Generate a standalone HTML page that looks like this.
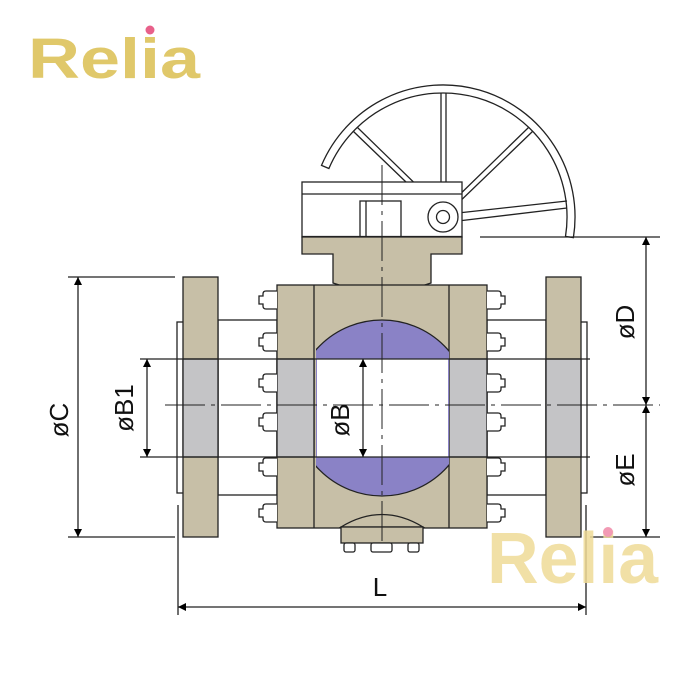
<!DOCTYPE html>
<html><head><meta charset="utf-8"><style>html,body{margin:0;padding:0;background:#fff}svg{display:block}</style></head>
<body>
<svg width="700" height="700" viewBox="0 0 700 700" xmlns="http://www.w3.org/2000/svg" font-family="Liberation Sans, sans-serif">
<defs>
<marker id="a" viewBox="0 0 10 10" refX="10" refY="5" markerWidth="8" markerHeight="16" orient="auto-start-reverse" markerUnits="userSpaceOnUse"><path d="M0,0 L10,5 L0,10 z" fill="#000"/></marker>
<clipPath id="ballclip"><rect x="316" y="300" width="133" height="220"/></clipPath>
<g id="boltL"><path d="M277,-9 H266 Q263,-9 263,-6 V-4 H259 V4 H263 V6 Q263,9 266,9 H277" fill="#fff" stroke="#222" stroke-width="1.3"/></g>
<g id="boltR"><path d="M487,-9 H498 Q501,-9 501,-6 V-4 H505 V4 H501 V6 Q501,9 498,9 H487" fill="#fff" stroke="#222" stroke-width="1.3"/></g>
</defs>
<g stroke="#222" stroke-width="1.3">
<!-- handwheel arc -->
<path d="M321.5,165.4 A132,132 0 0 1 573.4,237.6 L565.5,236.4 A124,124 0 0 0 328.9,168.5 Z" fill="#fff"/>
<line x1="441" y1="93" x2="441" y2="203"/>
<line x1="446" y1="93" x2="446" y2="203"/>
<line x1="353" y1="131" x2="433" y2="208"/><line x1="357" y1="127" x2="436" y2="204"/>
<line x1="529" y1="127" x2="450" y2="204"/><line x1="533" y1="131" x2="453" y2="208"/>
<line x1="458" y1="213" x2="567" y2="201"/><line x1="458" y1="221" x2="567" y2="208"/>
<!-- gearbox -->
<rect x="302" y="182" width="160" height="55" fill="#fff"/>
<line x1="302" y1="194" x2="462" y2="194"/>
<rect x="360" y="201" width="41" height="36" fill="#fff"/>
<line x1="366" y1="201" x2="366" y2="237"/>
<circle cx="443" cy="217" r="15" fill="#fff"/><circle cx="443" cy="217" r="6.5" fill="#fff"/>
<line x1="302" y1="237" x2="462" y2="237" stroke-width="2.2"/>
<!-- top flange & neck -->
<path d="M302,237 H462 V254 H431 V283 Q382,300 333,283 V254 H302 Z" fill="#c7bfa7"/>
<!-- pipes -->
<rect x="218" y="320" width="59" height="175" fill="#fff"/>
<rect x="487" y="320" width="59" height="175" fill="#fff"/>
<!-- flanges -->
<rect x="177" y="322" width="8" height="171" fill="#fff"/>
<rect x="579" y="322" width="8" height="171" fill="#fff"/>
<rect x="183" y="277" width="35" height="260" fill="#c7bfa7"/>
<rect x="546" y="277" width="35" height="260" fill="#c7bfa7"/>
<rect x="183" y="359" width="35" height="98" fill="#c4c4c6"/>
<rect x="546" y="359" width="35" height="98" fill="#c4c4c6"/>
<!-- body -->
<rect x="277" y="285" width="210" height="243" fill="#c7bfa7"/>
<line x1="314" y1="285" x2="314" y2="528"/><line x1="449" y1="285" x2="449" y2="528"/>
<rect x="277" y="359" width="37" height="98" fill="#c4c4c6"/>
<rect x="449" y="359" width="38" height="98" fill="#c4c4c6"/>
<g clip-path="url(#ballclip)"><circle cx="382" cy="408" r="88" fill="#8a82c6"/></g>
<rect x="317" y="359" width="131" height="98" fill="#fff" stroke="none"/>
<line x1="168" y1="359" x2="590" y2="359"/><line x1="168" y1="457" x2="590" y2="457"/>
<!-- bolts -->
<use href="#boltL" y="300"/><use href="#boltL" y="342"/><use href="#boltL" y="383"/><use href="#boltL" y="422"/><use href="#boltL" y="467"/><use href="#boltL" y="513"/>
<use href="#boltR" y="300"/><use href="#boltR" y="342"/><use href="#boltR" y="383"/><use href="#boltR" y="422"/><use href="#boltR" y="467"/><use href="#boltR" y="513"/>
<!-- bottom cap -->
<path d="M341,527 Q382,502 423,527 Z" fill="#c7bfa7"/>
<rect x="341" y="527" width="82" height="16" fill="#c7bfa7"/>
<rect x="344" y="543" width="11" height="9" rx="2" fill="#fff"/>
<rect x="371" y="543" width="21" height="9" rx="2" fill="#fff"/>
<rect x="408" y="543" width="11" height="9" rx="2" fill="#fff"/>
<!-- centerlines -->
<line x1="382" y1="165" x2="382" y2="545" stroke-width="1" stroke-dasharray="40,6,4,6"/>
<line x1="165" y1="405" x2="660" y2="405" stroke-width="1" stroke-dasharray="40,6,4,6"/>
<!-- dimensions -->
<line x1="68" y1="277" x2="175" y2="277"/><line x1="68" y1="537" x2="175" y2="537"/>
<line x1="78" y1="277" x2="78" y2="537" marker-start="url(#a)" marker-end="url(#a)"/>
<line x1="140" y1="359" x2="168" y2="359"/><line x1="140" y1="457" x2="168" y2="457"/>
<line x1="147" y1="359" x2="147" y2="457" marker-start="url(#a)" marker-end="url(#a)"/>
<line x1="363" y1="359" x2="363" y2="457" marker-start="url(#a)" marker-end="url(#a)"/>
<line x1="480" y1="237" x2="660" y2="237"/><line x1="590" y1="537" x2="660" y2="537"/>
<line x1="646" y1="237" x2="646" y2="405" marker-start="url(#a)" marker-end="url(#a)"/>
<line x1="646" y1="405" x2="646" y2="537" marker-start="url(#a)" marker-end="url(#a)"/>
<line x1="178" y1="505" x2="178" y2="615"/><line x1="586" y1="505" x2="586" y2="615"/>
<line x1="178" y1="607" x2="586" y2="607" marker-start="url(#a)" marker-end="url(#a)"/>
</g>
<g font-size="26" fill="#111">
<text transform="translate(68,420) rotate(-90)" text-anchor="middle">øC</text>
<text transform="translate(133,408) rotate(-90)" text-anchor="middle">øB1</text>
<text transform="translate(349,420) rotate(-90)" text-anchor="middle">øB</text>
<text transform="translate(634,322) rotate(-90)" text-anchor="middle">øD</text>
<text transform="translate(634,470) rotate(-90)" text-anchor="middle">øE</text>
<text x="380" y="596" text-anchor="middle">L</text>
</g>
<text x="28" y="78" font-size="57" font-weight="bold" fill="#e0c86a" textLength="172" lengthAdjust="spacingAndGlyphs">Relia</text>
<circle cx="150" cy="30" r="4.5" fill="#e8608a"/>
<text x="487" y="583" font-size="72" font-weight="bold" fill="#eedb97" fill-opacity="0.85" textLength="171" lengthAdjust="spacingAndGlyphs">Relia</text>
<circle cx="608" cy="532" r="5" fill="#f29ab4"/>
</svg>
</body></html>
